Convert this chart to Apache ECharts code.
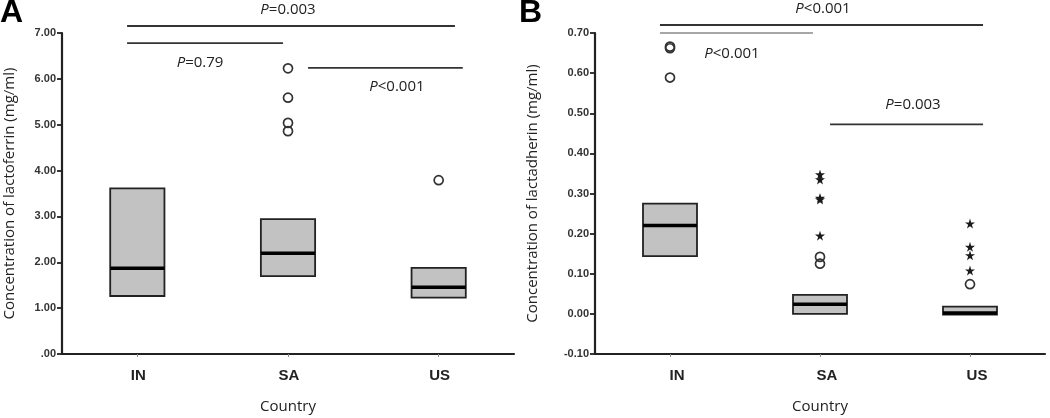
<!DOCTYPE html>
<html><head><meta charset="utf-8">
<script src="https://cdn.jsdelivr.net/npm/echarts@6/dist/echarts.min.js"></script>
<style>html,body{margin:0;padding:0;background:#fff}#c{width:1050px;height:418px}</style>
</head><body><div id="c"></div>
<script>
// ---- data ----
const categories = ['IN', 'SA', 'US'];
// Panel A: lactoferrin (mg/ml) boxes: [q1, median, q3]
const boxA = [[1.265, 1.87, 3.61], [1.70, 2.195, 2.94], [1.23, 1.455, 1.88]];
const outCircleA = [['SA', 6.23], ['SA', 5.59], ['SA', 5.04], ['SA', 4.86], ['US', 3.79]];
const outStarA = [];
const tickLabelsA = ['.00', '1.00', '2.00', '3.00', '4.00', '5.00', '6.00', '7.00'];
// Panel B: lactadherin (mg/ml)
const boxB = [[0.144, 0.22, 0.275], [0.0, 0.024, 0.0475], [-0.002, 0.002, 0.018]];
const outCircleB = [['IN', 0.662], ['IN', 0.666], ['IN', 0.589], ['SA', 0.142], ['SA', 0.125], ['US', 0.074]];
const outStarB = [['SA', 0.3475], ['SA', 0.335], ['SA', 0.285], ['SA', 0.289], ['SA', 0.195],
                  ['US', 0.225], ['US', 0.167], ['US', 0.146], ['US', 0.108]];
const tickLabelsB = ['-0.10', '0.00', '0.10', '0.20', '0.30', '0.40', '0.50', '0.60', '0.70'];
// p-values
const pTextA = ['=0.003', '=0.79', '<0.001'];
const pTextB = ['<0.001', '<0.001', '=0.003'];

const chart = echarts.init(document.getElementById('c'));
const STAR = 'path://M50,0 L61,35 L98,35 L68,57 L79,91 L50,70 L21,91 L32,57 L2,35 L39,35 Z';
const TXT = '#222';
const FONT = "'Open Sans', 'Noto Sans', sans-serif";

function boxSeries(idx, data) {
  return {
    type: 'custom', xAxisIndex: idx, yAxisIndex: idx,
    data: data.map((d, i) => [i, d[0], d[1], d[2]]),
    encode: { x: 0, y: [1, 2, 3] },
    renderItem: function (params, api) {
      const x = api.value(0);
      const w = api.size([1, 0])[0] * 0.36;
      const top = api.coord([x, api.value(3)]);
      const bot = api.coord([x, api.value(1)]);
      const med = api.coord([x, api.value(2)]);
      return {
        type: 'group', children: [
          { type: 'rect', shape: { x: top[0] - w / 2, y: top[1], width: w, height: bot[1] - top[1] },
            style: { fill: '#c2c2c2', stroke: '#222', lineWidth: 1.8 } },
          { type: 'line', shape: { x1: med[0] - w / 2, y1: med[1], x2: med[0] + w / 2, y2: med[1] },
            style: { stroke: '#000', lineWidth: 3.5 } }
        ]
      };
    },
    z: 3
  };
}
function circleSeries(idx, data) {
  return { type: 'scatter', xAxisIndex: idx, yAxisIndex: idx, data: data, symbol: 'circle',
    symbolSize: 9, itemStyle: { color: 'rgba(255,255,255,0)', borderColor: '#333', borderWidth: 1.7, opacity: 1 }, z: 4 };
}
function starSeries(idx, data) {
  return { type: 'scatter', xAxisIndex: idx, yAxisIndex: idx, data: data, symbol: STAR,
    symbolSize: 10, itemStyle: { color: '#1a1a1a', opacity: 1 }, z: 4 };
}
function yAxis(idx, min, max, interval, labels, name, gap) {
  return {
    type: 'value', gridIndex: idx, min: min, max: max, interval: interval,
    name: name, nameLocation: 'middle', nameGap: gap,
    nameTextStyle: { fontFamily: FONT, fontSize: 15, color: TXT },
    splitLine: { show: false },
    axisLine: { show: true, onZero: false, lineStyle: { color: '#222', width: 2.2 } },
    axisTick: { show: true, length: 5, lineStyle: { color: '#222', width: 1.8 } },
    axisLabel: { fontFamily: 'Liberation Sans, Arial, sans-serif', fontWeight: 'bold', fontSize: 11, color: '#333', margin: 6,
      formatter: function (v) { return labels[Math.round((v - min) / interval)]; } }
  };
}
function xAxis(idx, pad) {
  return {
    type: 'category', gridIndex: idx, data: categories,
    name: 'Country', nameLocation: 'middle', nameGap: 45,
    nameTextStyle: { fontFamily: FONT, fontSize: 15, color: TXT },
    axisLine: { show: true, onZero: false, lineStyle: { color: '#222', width: 2.2 } },
    axisTick: { show: true, alignWithLabel: true, length: 3, lineStyle: { color: '#888' } },
    axisLabel: { fontFamily: 'Liberation Sans, Arial, sans-serif', fontWeight: 'bold', fontSize: 15, color: '#222', margin: 14,
      padding: [0, 0, 0, pad] }
  };
}

chart.setOption({
  animation: false,
  grid: [
    { left: 62, top: 33, width: 452, height: 321, outerBoundsMode: 'none' },
    { left: 595, top: 33, width: 450, height: 321, outerBoundsMode: 'none' }
  ],
  xAxis: [xAxis(0, 2), xAxis(1, 14)],
  yAxis: [
    yAxis(0, 0, 7, 1, tickLabelsA, 'Concentration of lactoferrin (mg/ml)', 45),
    yAxis(1, -0.1, 0.7, 0.1, tickLabelsB, 'Concentration of lactadherin (mg/ml)', 55)
  ],
  series: [
    boxSeries(0, boxA), circleSeries(0, outCircleA), starSeries(0, outStarA),
    boxSeries(1, boxB), circleSeries(1, outCircleB), starSeries(1, outStarB)
  ]
});

// significance annotations placed via the axes' own scales
function pt(idx, f, v) {
  const a = chart.convertToPixel({ xAxisIndex: idx, yAxisIndex: idx }, [categories[0], v]);
  const b = chart.convertToPixel({ xAxisIndex: idx, yAxisIndex: idx }, [categories[1], v]);
  return [a[0] + f * (b[0] - a[0]), a[1]];
}
function hline(idx, f1, f2, v, color, w) {
  const p1 = pt(idx, f1, v), p2 = pt(idx, f2, v);
  return { type: 'line', shape: { x1: p1[0], y1: p1[1], x2: p2[0], y2: p2[1] },
    style: { stroke: color, lineWidth: w }, z: 10 };
}
function ptext(idx, f, v, t) {
  const p = pt(idx, f, v);
  return { type: 'text', x: p[0], y: p[1], z: 10,
    style: { text: '{i|P}' + t, align: 'center', verticalAlign: 'middle', fill: TXT,
      font: '15px ' + FONT, rich: { i: { fontStyle: 'italic', fontSize: 15, fontFamily: FONT, fill: TXT } } } };
}
const g = [
  hline(0, -0.068, 2.108, 7.153, '#333', 1.8), ptext(0, 1.0, 7.50, pTextA[0]),
  hline(0, -0.068, 0.967, 6.78, '#333', 1.8), ptext(0, 0.416, 6.35, pTextA[1]),
  hline(0, 1.133, 2.16, 6.24, '#333', 1.8), ptext(0, 1.723, 5.82, pTextA[2]),
  hline(1, -0.067, 2.087, 0.72, '#333', 1.8), ptext(1, 1.02, 0.76, pTextB[0]),
  hline(1, -0.067, 0.953, 0.70, '#8a8a8a', 1.3), ptext(1, 0.413, 0.6475, pTextB[1]),
  hline(1, 1.067, 2.087, 0.4725, '#333', 1.8), ptext(1, 1.62, 0.52, pTextB[2]),
  { type: 'text', left: 0, top: -3, style: { text: 'A', font: 'bold 32px Liberation Sans, Arial, sans-serif', fill: '#000' } },
  { type: 'text', left: 519, top: -3, style: { text: 'B', font: 'bold 32px Liberation Sans, Arial, sans-serif', fill: '#000' } }
];
chart.setOption({ graphic: g });
</script>
</body></html>
